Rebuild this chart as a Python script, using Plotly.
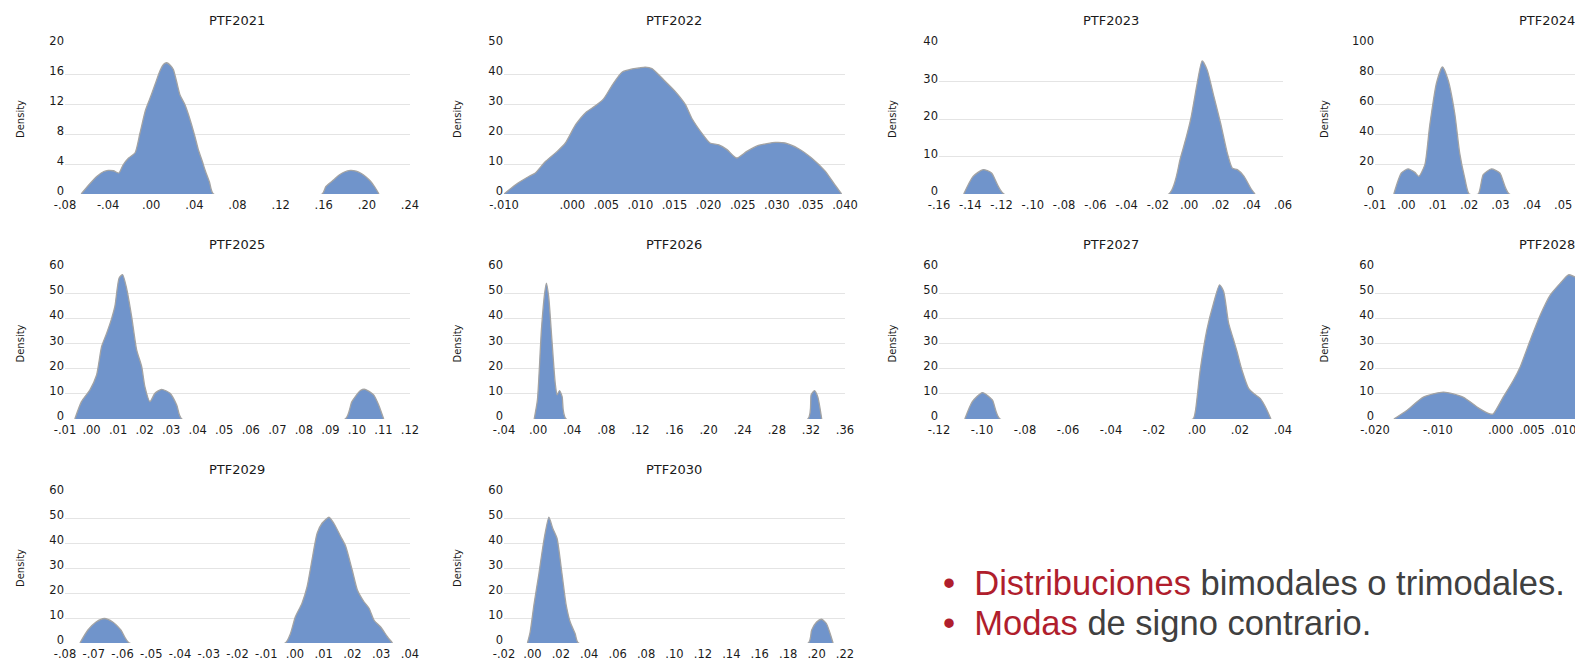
import plotly.graph_objects as go

# The page body keeps its default 8 px margin, so the figure is drawn 8 px in
# from the top-left corner of the window: size it to fill exactly the rest.
OFF = 8
WIN_W, WIN_H = 1583, 659
W, H = WIN_W - OFF, WIN_H - OFF

# ---------------- data ----------------
names = ["PTF2021", "PTF2022", "PTF2023", "PTF2024", "PTF2025",
         "PTF2026", "PTF2027", "PTF2028", "PTF2029", "PTF2030"]

x_2021 = [-0.065, -0.058, -0.050, -0.044, -0.040, -0.035, -0.030, -0.026, -0.021, -0.015, -0.0105,
          -0.0053, 0.000, 0.004, 0.008, 0.0115, 0.0143, 0.018, 0.0205, 0.0235, 0.0267, 0.0313, 0.0345,
          0.0375, 0.041, 0.0437, 0.0475, 0.0499, 0.054, 0.0577, 0.1585, 0.162, 0.1693, 0.1740, 0.1786,
          0.1848, 0.190, 0.1941, 0.1990, 0.2034, 0.2075, 0.2112]
y_2021 = [0, 1.2, 2.4, 3.0, 3.15, 3.1, 2.8, 3.9, 4.8, 5.5, 8.1,
          11.2, 13.2, 14.8, 16.4, 17.3, 17.5, 17.1, 16.6, 15.0, 13.2, 11.9, 10.6,
          9.2, 7.4, 5.9, 4.3, 3.2, 1.6, 0, 0, 1.0, 1.9, 2.5, 2.9,
          3.15, 3.05, 2.8, 2.3, 1.7, 0.9, 0]

x_2022 = [-0.010, -0.0083, -0.0063, -0.0054, -0.0039, -0.0022, -0.0010, 0.0005, 0.0020, 0.0034,
          0.0046, 0.0059, 0.0073, 0.0088, 0.0098, 0.0107, 0.0117, 0.0134, 0.0151, 0.0166, 0.0176,
          0.0190, 0.0202, 0.0215, 0.0227, 0.0241, 0.0256, 0.0273, 0.0298, 0.0312, 0.0332, 0.0351,
          0.0371, 0.0385, 0.0395]
y_2022 = [0, 3.1, 5.9, 7.0, 10.9, 14.2, 17.0, 23.1, 27.2, 29.4,
          31.7, 36.4, 40.6, 41.7, 42.0, 42.3, 41.8, 38.1, 34.2, 29.8, 25.0,
          20.3, 17.0, 16.4, 14.8, 12.0, 14.2, 16.2, 17.2, 17.0, 15.1, 12.0,
          7.6, 3.1, 0]

x_2023 = [-0.1442, -0.1382, -0.1318, -0.1264, -0.1185, -0.0130, -0.0056, 0.0009, 0.0051, 0.0083,
          0.0115, 0.0158, 0.0201, 0.0244, 0.0276, 0.0308, 0.0351, 0.0393, 0.0421]
y_2023 = [0, 4.7, 6.5, 5.6, 0, 0, 9.6, 19.8, 29.5, 35.5,
          33.1, 26.0, 18.9, 10.9, 6.9, 6.5, 4.7, 1.6, 0]

x_2024 = [-0.0040, -0.0016, 0.0005, 0.0027, 0.0040, 0.0059, 0.0074, 0.0096, 0.0115, 0.0133,
          0.0154, 0.0170, 0.0186, 0.0200, 0.0229, 0.0245, 0.0271, 0.0298, 0.0328, 0.0600]
y_2024 = [0, 14.0, 16.7, 14.4, 11.8, 19.6, 45.0, 74.0, 84.7, 76.0,
          54.0, 27.3, 10.7, 0, 0, 12.9, 16.7, 14.0, 0, 0]

x_2025 = [-0.0063, -0.0038, -0.0006, 0.0019, 0.0038, 0.0057, 0.0075, 0.0088, 0.0104, 0.0117,
          0.0132, 0.0151, 0.0170, 0.0189, 0.0201, 0.0220, 0.0239, 0.0264, 0.0296, 0.0321,
          0.0340, 0.0956, 0.0981, 0.1013, 0.1031, 0.1063, 0.1082, 0.1101]
y_2025 = [0, 6.9, 11.6, 17.5, 28.8, 34.1, 39.7, 44.8, 56.0, 57.4,
          52.0, 40.8, 27.5, 20.8, 12.9, 6.9, 10.2, 11.8, 10.2, 5.6,
          0, 0, 6.9, 11.3, 11.8, 9.6, 5.6, 0]

x_2026 = [-0.0046, -0.0008, 0.0039, 0.0077, 0.0097, 0.0124, 0.0162, 0.0201, 0.0224, 0.0251,
          0.0282, 0.0329, 0.3164, 0.3203, 0.3242, 0.3280, 0.3327]
y_2026 = [0, 7.6, 35.5, 50.0, 54.0, 48.7, 31.5, 14.2, 9.6, 11.3,
          8.9, 0, 0, 9.6, 11.3, 8.9, 0]

x_2027 = [-0.1080, -0.1045, -0.0998, -0.0952, -0.0916, -0.0019, -0.0008, 0.0015, 0.0046, 0.0077,
          0.0105, 0.0124, 0.0147, 0.0170, 0.0186, 0.0209, 0.0240, 0.0263, 0.0294, 0.0322, 0.0344]
y_2027 = [0, 6.9, 10.5, 7.6, 0, 0, 2.9, 19.5, 35.5, 46.0,
          53.3, 50.7, 38.1, 31.5, 26.8, 19.5, 12.2, 10.2, 8.2, 4.2, 0]

x_2028 = [-0.0170, -0.0150, -0.0123, -0.0091, -0.0060, -0.0033, -0.0017, -0.0012, 0.0004, 0.0020,
          0.0031, 0.0047, 0.0063, 0.0079, 0.0095, 0.0108, 0.0121, 0.0140, 0.0180, 0.0220]
y_2028 = [0, 3.3, 8.7, 10.7, 8.7, 4.0, 2.0, 2.0, 8.7, 15.3,
          20.7, 31.3, 41.3, 49.3, 54.0, 57.3, 56.0, 50.0, 20.0, 0]

x_2029 = [-0.0748, -0.0721, -0.0692, -0.0663, -0.0634, -0.0605, -0.0576, -0.0034, -0.0016, 0.0001,
          0.0024, 0.0042, 0.0059, 0.0077, 0.0094, 0.0118, 0.0135, 0.0159, 0.0176, 0.0199,
          0.0217, 0.0240, 0.0258, 0.0275, 0.0298, 0.0322, 0.0339]
y_2029 = [0, 5.1, 8.4, 9.8, 8.4, 5.1, 0, 0, 3.7, 10.4,
          15.8, 22.5, 33.2, 43.9, 47.9, 50.3, 47.9, 42.6, 38.8, 29.2,
          21.2, 16.5, 13.8, 9.1, 6.4, 2.4, 0]

x_2030 = [-0.0035, -0.0016, 0.0012, 0.0046, 0.0081, 0.0116, 0.0143, 0.0173, 0.0208, 0.0238,
          0.0266, 0.0301, 0.0324, 0.1942, 0.1965, 0.2000, 0.2035, 0.2069, 0.2092, 0.2116]
y_2030 = [0, 4.4, 15.8, 27.8, 41.2, 50.3, 45.9, 41.9, 27.8, 15.1,
          8.4, 3.7, 0, 0, 5.1, 8.4, 9.5, 7.8, 4.4, 0]

# tick values and labels
xt_2021 = [-0.08, -0.04, 0.00, 0.04, 0.08, 0.12, 0.16, 0.20, 0.24]
xl_2021 = ["-.08", "-.04", ".00", ".04", ".08", ".12", ".16", ".20", ".24"]
xt_2022 = [-0.010, -0.005, 0.000, 0.005, 0.010, 0.015, 0.020, 0.025, 0.030, 0.035, 0.040]
xl_2022 = ["-.010", "", ".000", ".005", ".010", ".015", ".020", ".025", ".030", ".035", ".040"]
xt_2023 = [-0.16, -0.14, -0.12, -0.10, -0.08, -0.06, -0.04, -0.02, 0.00, 0.02, 0.04, 0.06]
xl_2023 = ["-.16", "-.14", "-.12", "-.10", "-.08", "-.06", "-.04", "-.02", ".00", ".02", ".04", ".06"]
xt_2024 = [-0.01, 0.00, 0.01, 0.02, 0.03, 0.04, 0.05]
xl_2024 = ["-.01", ".00", ".01", ".02", ".03", ".04", ".05"]
xt_2025 = [-0.01, 0.00, 0.01, 0.02, 0.03, 0.04, 0.05, 0.06, 0.07, 0.08, 0.09, 0.10, 0.11, 0.12]
xl_2025 = ["-.01", ".00", ".01", ".02", ".03", ".04", ".05", ".06", ".07", ".08", ".09", ".10", ".11", ".12"]
xt_2026 = [-0.04, 0.00, 0.04, 0.08, 0.12, 0.16, 0.20, 0.24, 0.28, 0.32, 0.36]
xl_2026 = ["-.04", ".00", ".04", ".08", ".12", ".16", ".20", ".24", ".28", ".32", ".36"]
xt_2027 = [-0.12, -0.10, -0.08, -0.06, -0.04, -0.02, 0.00, 0.02, 0.04]
xl_2027 = ["-.12", "-.10", "-.08", "-.06", "-.04", "-.02", ".00", ".02", ".04"]
xt_2028 = [-0.020, -0.015, -0.010, -0.005, 0.000, 0.005, 0.010]
xl_2028 = ["-.020", "", "-.010", "", ".000", ".005", ".010"]
xt_2029 = [-0.08, -0.07, -0.06, -0.05, -0.04, -0.03, -0.02, -0.01, 0.00, 0.01, 0.02, 0.03, 0.04]
xl_2029 = ["-.08", "-.07", "-.06", "-.05", "-.04", "-.03", "-.02", "-.01", ".00", ".01", ".02", ".03", ".04"]
xt_2030 = [-0.02, 0.00, 0.02, 0.04, 0.06, 0.08, 0.10, 0.12, 0.14, 0.16, 0.18, 0.20, 0.22]
xl_2030 = ["-.02", ".00", ".02", ".04", ".06", ".08", ".10", ".12", ".14", ".16", ".18", ".20", ".22"]

y_max = [20, 50, 40, 100, 60, 60, 60, 60, 60, 60]
y_step = [4, 10, 10, 20, 10, 10, 10, 10, 10, 10]

bullet_red = ["Distribuciones", "Modas"]
bullet_rest = [" bimodales o trimodales.", " de signo contrario."]

# ---------------- layout geometry (window pixels) ----------------
col_px = [(65, 410), (504, 845), (939, 1283), (1375, 1583)]
col_title_x = [237, 674, 1111, 1547]
col_dens_x = [20, 457, 892, 1324]
row_px = [(44, 194), (268, 419), (493, 643)]
row_title_y = [20, 245, 469]
x_ranges = [[-0.08, 0.24], [-0.010, 0.040], [-0.16, 0.06], [-0.01, 0.0563],
            [-0.01, 0.12], [-0.04, 0.36], [-0.12, 0.04], [-0.020, 0.0131],
            [-0.08, 0.04], [-0.02, 0.22]]


def px(p):
    return (p - OFF) / W


def py(p):
    return 1 - (p - OFF) / H


xs = [x_2021, x_2022, x_2023, x_2024, x_2025, x_2026, x_2027, x_2028, x_2029, x_2030]
ys = [y_2021, y_2022, y_2023, y_2024, y_2025, y_2026, y_2027, y_2028, y_2029, y_2030]
xts = [xt_2021, xt_2022, xt_2023, xt_2024, xt_2025, xt_2026, xt_2027, xt_2028, xt_2029, xt_2030]
xls = [xl_2021, xl_2022, xl_2023, xl_2024, xl_2025, xl_2026, xl_2027, xl_2028, xl_2029, xl_2030]

FILL = "#7094CB"
EDGE = "#A3A3A3"
GRID = "#E4E4E4"
TXT = "#1A1A1A"
FONT = "DejaVu Sans"

fig = go.Figure()
annotations = []
layout_axes = {}

n = len(names)
for i, name in enumerate(names):
    r, c = divmod(i, 4)
    k = "" if i == 0 else str(i + 1)
    g = str(n + i + 1)  # overlay axis used only for interior vertical gridlines
    x0, x1 = col_px[c]
    t0, b0 = row_px[r]
    fig.add_trace(go.Scatter(
        x=xs[i], y=ys[i], mode="lines", fill="tozeroy",
        fillcolor=FILL, line=dict(color=EDGE, width=1.3, shape="spline", smoothing=0.6),
        xaxis="x" + k, yaxis="y" + k, showlegend=False, hoverinfo="skip"))
    lo, hi = x_ranges[i]
    interior = [v for v in xts[i] if lo + 1e-9 < v < hi - 1e-9]
    layout_axes["xaxis" + k] = dict(
        domain=[px(x0), min(1.0, px(x1))], anchor="y" + k, range=x_ranges[i],
        tickmode="array", tickvals=xts[i], ticktext=xls[i],
        showgrid=False, zeroline=False, showline=False, automargin=False,
        ticks="", tickfont=dict(family=FONT, size=11.5, color=TXT), fixedrange=True,
        ticklabelstandoff=2)
    layout_axes["xaxis" + g] = dict(
        domain=[px(x0), min(1.0, px(x1))], anchor="y" + k, overlaying="x" + k,
        range=x_ranges[i], tickmode="array", tickvals=interior, showticklabels=False,
        showgrid=True, gridcolor=GRID, gridwidth=1.3, zeroline=False, showline=False,
        automargin=False, ticks="", fixedrange=True)
    layout_axes["yaxis" + k] = dict(
        domain=[py(b0), py(t0)], anchor="x" + k, range=[0, y_max[i]],
        tickmode="linear", tick0=0, dtick=y_step[i],
        showgrid=True, gridcolor=GRID, gridwidth=1.3, zeroline=False, showline=False,
        automargin=False, ticks="", tickfont=dict(family=FONT, size=11.5, color=TXT),
        fixedrange=True, ticklabelshift=-3)
    annotations.append(dict(
        text=name, x=px(col_title_x[c]), y=py(row_title_y[r]), xref="paper", yref="paper",
        xanchor="center", yanchor="middle", showarrow=False,
        font=dict(family=FONT, size=13, color=TXT)))
    annotations.append(dict(
        text="Density", x=px(col_dens_x[c]), y=py((t0 + b0) / 2), xref="paper", yref="paper",
        xanchor="center", yanchor="middle", showarrow=False, textangle=-90,
        font=dict(family=FONT, size=10, color=TXT)))

RED = "#B01E2D"
GRAY = "#404040"
line_y = [583, 623]
for j in range(2):
    annotations.append(dict(
        text=f"<span style='color:{RED}'>•\u00a0\u00a0{bullet_red[j]}</span>"
             f"<span style='color:{GRAY}'>{bullet_rest[j]}</span>",
        x=px(941), y=py(line_y[j]), xref="paper", yref="paper",
        xanchor="left", yanchor="middle", showarrow=False,
        font=dict(family="Liberation Sans, Arial", size=34.5, color=GRAY)))

fig.update_layout(
    width=W, height=H, autosize=False,
    margin=dict(l=0, r=0, t=0, b=0, autoexpand=False),
    paper_bgcolor="white", plot_bgcolor="white",
    annotations=annotations, **layout_axes)

fig.write_html("out.html", config={"displayModeBar": False})
